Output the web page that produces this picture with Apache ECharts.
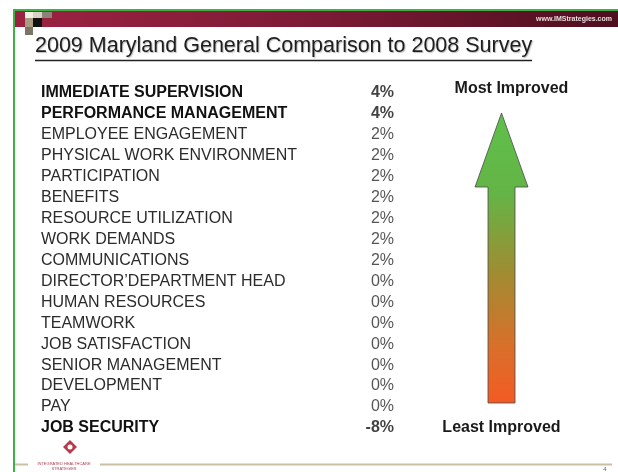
<!DOCTYPE html>
<html>
<head>
<meta charset="utf-8">
<script src="https://cdn.jsdelivr.net/npm/echarts@6/dist/echarts.min.js"></script>
<style>html,body{margin:0;padding:0;background:#fff}#c{width:618px;height:472px}</style>
</head>
<body>
<div id="c"></div>
<script>
const titleText = '2009 Maryland General Comparison to 2008 Survey';
const categories = [
  'IMMEDIATE SUPERVISION','PERFORMANCE MANAGEMENT','EMPLOYEE ENGAGEMENT',
  'PHYSICAL WORK ENVIRONMENT','PARTICIPATION','BENEFITS','RESOURCE UTILIZATION',
  'WORK DEMANDS','COMMUNICATIONS','DIRECTOR\u2019DEPARTMENT HEAD','HUMAN RESOURCES',
  'TEAMWORK','JOB SATISFACTION','SENIOR MANAGEMENT','DEVELOPMENT','PAY','JOB SECURITY'
];
const changes = [4, 4, 2, 2, 2, 2, 2, 2, 2, 0, 0, 0, 0, 0, 0, 0, -8];
const topLabel = 'Most Improved';
const bottomLabel = 'Least Improved';
const boldNames = new Set(['IMMEDIATE SUPERVISION','PERFORMANCE MANAGEMENT','JOB SECURITY']);

const FONT = "'Liberation Sans', Arial, Helvetica, sans-serif";
const chart = echarts.init(document.getElementById('c'), null, {renderer: 'canvas'});

const rowStyles = {
  b: {fontFamily: FONT, fontSize: 16, fontWeight: 'bold', color: '#111'},
  n: {fontFamily: FONT, fontSize: 16, fontWeight: 'normal', color: '#2b2b2b'}
};

chart.setOption({
  animation: false,
  backgroundColor: '#fff',
  grid: {left: 41, right: 224, top: 82, height: 356.5, containLabel: false},
  xAxis: {type: 'value', min: 0, max: 1, show: false},
  yAxis: {
    type: 'category', inverse: true, data: categories,
    axisLine: {show: false}, axisTick: {show: false}, splitLine: {show: false},
    axisLabel: {
      inside: true, margin: 0,
      formatter: v => boldNames.has(v) ? '{b|' + v + '}' : '{n|' + v + '}',
      rich: rowStyles
    }
  },
  series: [{
    type: 'scatter', symbolSize: 0,
    data: changes.map((v, i) => [1, i, v]),
    label: {
      show: true, position: 'left', distance: 0,
      formatter: p => {
        const s = p.data[2] + '%';
        return boldNames.has(categories[p.data[1]]) ? '{b|' + s + '}' : '{n|' + s + '}';
      },
      rich: rowStyles
    }
  }],
  graphic: [
    // header bar
    {type: 'rect', shape: {x: 14, y: 11, width: 604, height: 16},
      style: {fill: new echarts.graphic.LinearGradient(0, 0, 1, 0, [
        {offset: 0, color: '#9c2242'}, {offset: 0.5, color: '#7c1a35'}, {offset: 1, color: '#4e0f1f'}])}},
    // green frame
    {type: 'line', shape: {x1: 13, y1: 10, x2: 618, y2: 10}, style: {stroke: '#3fb044', lineWidth: 2}},
    {type: 'line', shape: {x1: 14, y1: 10, x2: 14, y2: 472}, style: {stroke: '#3fb044', lineWidth: 2}},
    // corner squares
    {type: 'rect', shape: {x: 25, y: 12, width: 8, height: 6}, style: {fill: '#f2eeea'}},
    {type: 'rect', shape: {x: 33, y: 12, width: 9, height: 6}, style: {fill: '#d8d0c6'}},
    {type: 'rect', shape: {x: 42, y: 12, width: 10, height: 6}, style: {fill: '#8c8478'}},
    {type: 'rect', shape: {x: 25, y: 18, width: 8, height: 9}, style: {fill: '#a89c80'}},
    {type: 'rect', shape: {x: 33, y: 18, width: 9, height: 9}, style: {fill: '#111'}},
    {type: 'rect', shape: {x: 25, y: 27, width: 8, height: 8}, style: {fill: '#7c7464'}},
    // website
    {type: 'text', x: 612, y: 19, style: {text: 'www.IMStrategies.com', fill: '#eadde0',
      font: 'bold 7px ' + FONT, textAlign: 'right', textVerticalAlign: 'middle'}},
    // title
    {type: 'text', x: 35, y: 57, style: {text: titleText, fill: '#1e1e1e',
      font: '21.5px ' + FONT, textAlign: 'left', textVerticalAlign: 'bottom',
      textShadowColor: 'rgba(0,0,0,0.25)', textShadowOffsetX: 1, textShadowOffsetY: 1, textShadowBlur: 1}},
    {type: 'line', shape: {x1: 35, y1: 60.5, x2: 532, y2: 60.5}, style: {stroke: '#222', lineWidth: 1.3}},
    // arrow labels
    {type: 'text', x: 511.5, y: 89, style: {text: topLabel, fill: '#1a1a1a',
      font: 'bold 16px ' + FONT, textAlign: 'center', textVerticalAlign: 'middle'}},
    {type: 'text', x: 501.5, y: 428, style: {text: bottomLabel, fill: '#1a1a1a',
      font: 'bold 16px ' + FONT, textAlign: 'center', textVerticalAlign: 'middle'}},
    // arrow
    {type: 'polygon', shape: {points: [[501.5, 113], [528, 187], [515, 187], [515, 403], [488, 403], [488, 187], [475, 187]]},
      style: {fill: new echarts.graphic.LinearGradient(0, 0, 0, 1, [
        {offset: 0, color: '#5fc04a'}, {offset: 0.28, color: '#64b446'},
        {offset: 0.55, color: '#a08c32'}, {offset: 0.8, color: '#d8702a'}, {offset: 1, color: '#f45a24'}]),
        stroke: '#4a4a4a', lineWidth: 0.8}},
    // footer
    {type: 'line', shape: {x1: 15, y1: 464.5, x2: 28, y2: 464.5}, style: {stroke: '#c9c0a6', lineWidth: 2}},
    {type: 'line', shape: {x1: 100, y1: 464.5, x2: 612, y2: 464.5}, style: {stroke: '#c9c0a6', lineWidth: 2}},
    {type: 'polygon', shape: {points: [[70, 440], [77, 447], [70, 454], [63, 447]]}, style: {fill: '#b83a4a'}},
    {type: 'circle', shape: {cx: 70, cy: 447, r: 2.5}, style: {fill: '#fff'}},
    {type: 'text', x: 64, y: 464, style: {text: 'INTEGRATED HEALTHCARE', fill: '#b04050',
      font: '4px ' + FONT, textAlign: 'center', textVerticalAlign: 'middle'}},
    {type: 'text', x: 64, y: 469, style: {text: 'STRATEGIES', fill: '#b04050',
      font: '4px ' + FONT, textAlign: 'center', textVerticalAlign: 'middle'}},
    {type: 'text', x: 605, y: 469, style: {text: '4', fill: '#666',
      font: '6px ' + FONT, textAlign: 'center', textVerticalAlign: 'middle'}}
  ]
});
</script>
</body>
</html>
